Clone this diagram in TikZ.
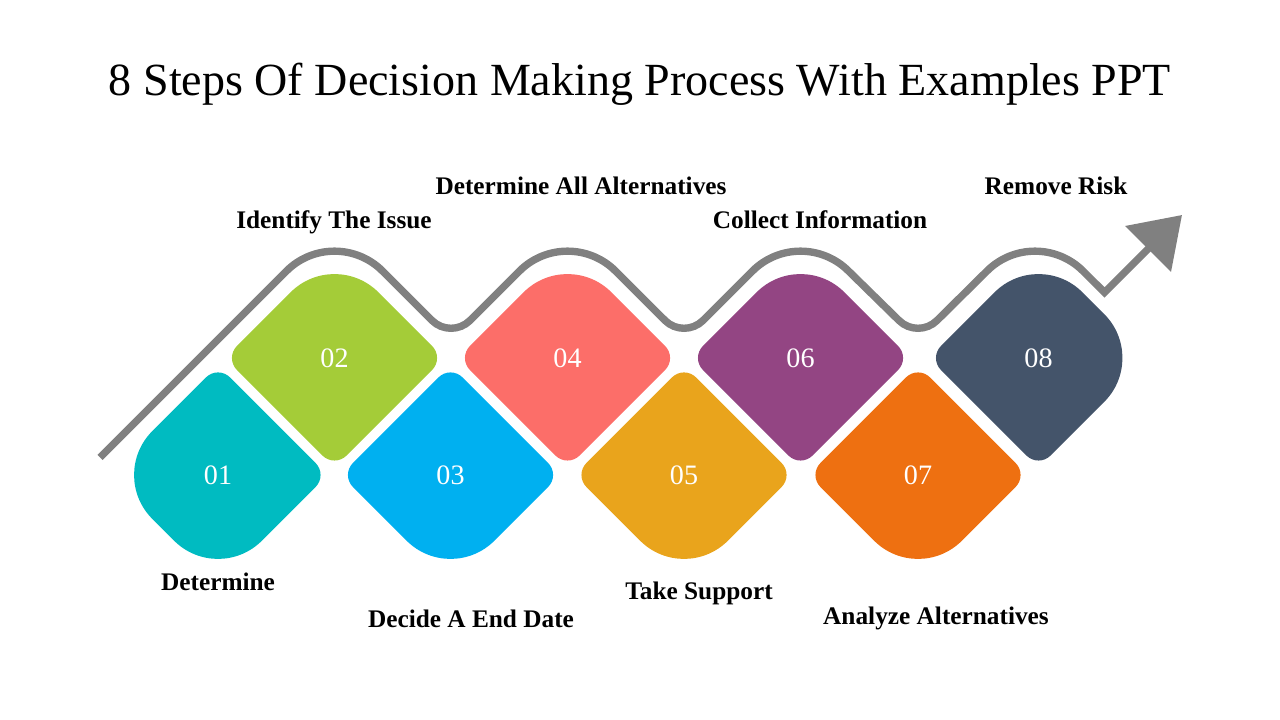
\documentclass[tikz,border=0pt]{standalone}
\usepackage{fontspec}
\setmainfont{Liberation Serif}
\usetikzlibrary{calc,arrows.meta}

\definecolor{tealA}{HTML}{00BBC1}
\definecolor{greenB}{HTML}{A4CC38}
\definecolor{blueC}{HTML}{00B0F0}
\definecolor{salmonD}{HTML}{FC6E69}
\definecolor{goldE}{HTML}{E9A41C}
\definecolor{purpleF}{HTML}{934583}
\definecolor{orangeG}{HTML}{EE7011}
\definecolor{slateH}{HTML}{44546A}
\definecolor{wavegray}{HTML}{808080}

\tikzset{
  steptext/.style={font=\fontsize{7.2}{8.6}\selectfont\bfseries, anchor=base},
  stepnum/.style={text=white, font=\fontsize{8}{9.6}\selectfont},
  wave/.style={draw=wavegray, line width=2.1pt},
  % rounded diamond: colour, radius top, right, bottom, left
  pics/stepshape/.style n args={5}{code={%
    \fill[#1] ({-0.7071*#2},{1.096-0.7071*#2}) arc[start angle=135,end angle=45,radius=#2]
      -- ({1.096-0.7071*#3},{0.7071*#3}) arc[start angle=45,end angle=-45,radius=#3]
      -- ({0.7071*#4},{-1.096+0.7071*#4}) arc[start angle=-45,end angle=-135,radius=#4]
      -- ({-1.096+0.7071*#5},{-0.7071*#5}) arc[start angle=-135,end angle=-225,radius=#5]
      -- cycle;}}
}

\begin{document}
\begin{tikzpicture}
\useasboundingbox (0,0) rectangle (12.8,7.2);

\node[anchor=base, font=\fontsize{13.1}{15}\selectfont] (title) at (6.40,6.24)
  {8 Steps Of Decision Making Process With Examples PPT};

% centres of the steps
\coordinate (c1) at (2.18,2.45);
\coordinate (c2) at (3.345,3.62);
\coordinate (c3) at (4.505,2.45);
\coordinate (c4) at (5.675,3.62);
\coordinate (c5) at (6.84,2.45);
\coordinate (c6) at (8.005,3.62);
\coordinate (c7) at (9.18,2.45);
\coordinate (c8) at (10.385,3.62);

% wave over the top row
\coordinate (s) at (1.00,2.625);
\coordinate (p1) at (3.345,4.97);
\coordinate (p2) at (5.675,4.97);
\coordinate (p3) at (8.005,4.97);
\coordinate (p4) at (10.35,4.97);
\coordinate (v1) at (4.51,3.805);
\coordinate (v2) at (6.84,3.805);
\coordinate (v3) at (9.18,3.805);
\coordinate (t) at (11.045,4.275);
\coordinate (e) at (11.82,5.05);

\draw[wave, -{Triangle[length=4.8mm,width=6.3mm]}] (s)
  foreach \i in {1,2,3} {
    -- ($(p\i)+(-0.481,-0.481)$) arc[start angle=135,end angle=45,radius=0.68]
    -- ($(v\i)+(-0.191,0.191)$) arc[start angle=-135,end angle=-45,radius=0.27]
  }
  -- ($(p4)+(-0.481,-0.481)$) arc[start angle=135,end angle=45,radius=0.68]
  -- (t) -- (e);

\pic at (c1) {stepshape={tealA}{0.17}{0.17}{0.62}{0.62}};
\pic at (c2) {stepshape={greenB}{0.62}{0.17}{0.17}{0.17}};
\pic at (c3) {stepshape={blueC}{0.17}{0.17}{0.62}{0.17}};
\pic at (c4) {stepshape={salmonD}{0.62}{0.17}{0.17}{0.17}};
\pic at (c5) {stepshape={goldE}{0.17}{0.17}{0.62}{0.17}};
\pic at (c6) {stepshape={purpleF}{0.62}{0.17}{0.17}{0.17}};
\pic at (c7) {stepshape={orangeG}{0.17}{0.17}{0.62}{0.17}};
\pic at (c8) {stepshape={slateH}{0.62}{0.62}{0.17}{0.17}};

\node[stepnum] (n1) at (c1) {01};
\node[stepnum] (n2) at (c2) {02};
\node[stepnum] (n3) at (c3) {03};
\node[stepnum] (n4) at (c4) {04};
\node[stepnum] (n5) at (c5) {05};
\node[stepnum] (n6) at (c6) {06};
\node[stepnum] (n7) at (c7) {07};
\node[stepnum] (n8) at (c8) {08};

\node[steptext] (l1) at (2.18,1.29) {Determine};
\node[steptext] (l2) at (3.34,4.91) {Identify The Issue};
\node[steptext] (l3) at (4.71,0.92) {Decide A End Date};
\node[steptext] (l4) at (5.81,5.25) {Determine All Alternatives};
\node[steptext] (l5) at (6.99,1.20) {Take Support};
\node[steptext] (l6) at (8.20,4.91) {Collect Information};
\node[steptext] (l7) at (9.36,0.95) {Analyze Alternatives};
\node[steptext] (l8) at (10.56,5.25) {Remove Risk};
\end{tikzpicture}
\end{document}
